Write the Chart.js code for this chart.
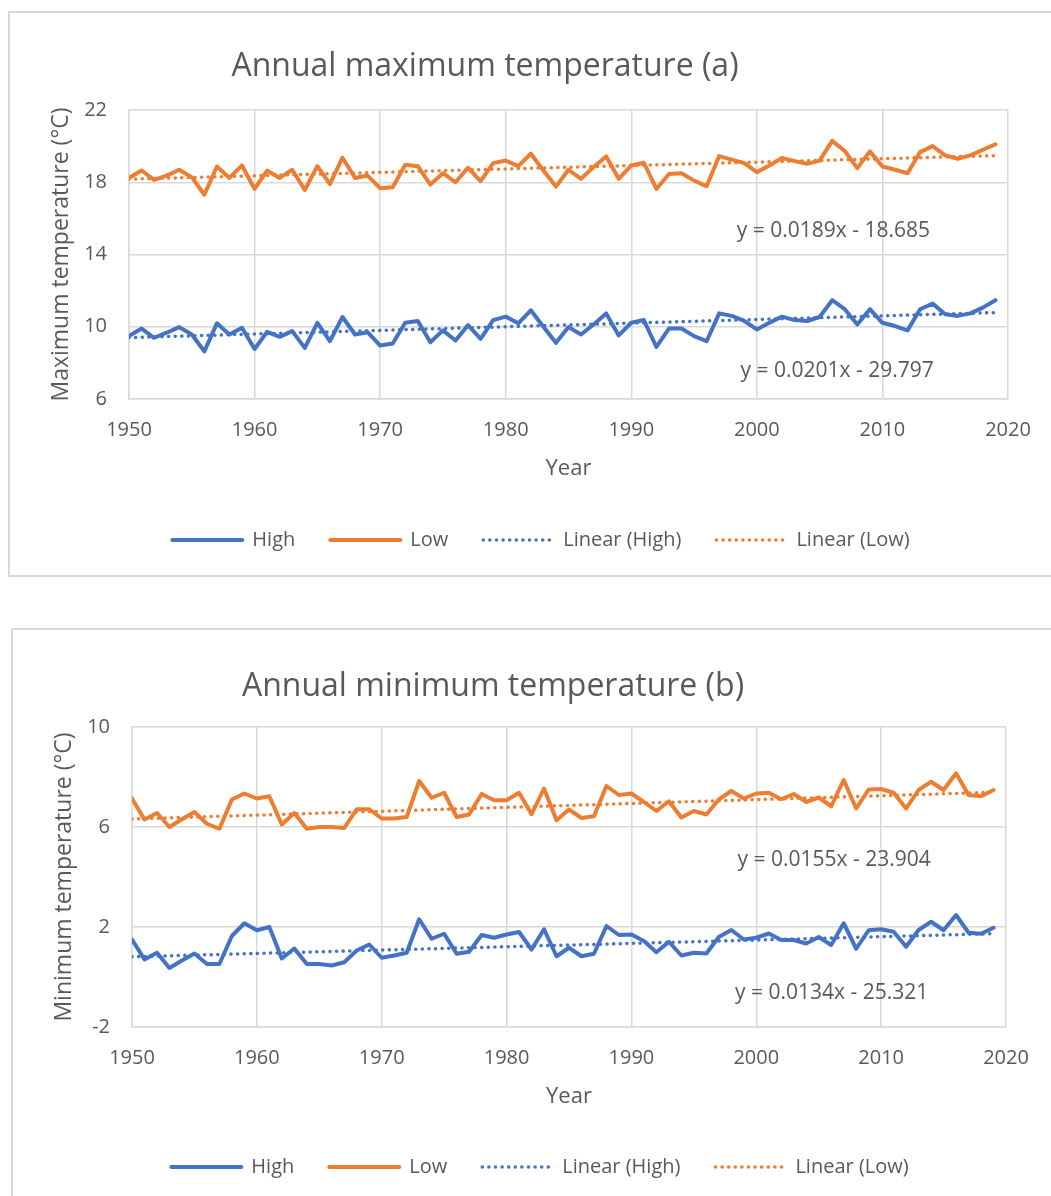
<!DOCTYPE html>
<html>
<head>
<meta charset="utf-8">
<script src="https://cdn.jsdelivr.net/npm/chart.js@4"></script>
<style>
  body { margin: 0; overflow: hidden; background: #fff; }
  .box { position: absolute; border: 2px solid #d9d9d9; width: 1200px; background: #fff; }
  .box canvas { position: absolute; left: 0; top: 0; }
</style>
</head>
<body>
<div class="box" style="left: 8px; top: 11px; height: 562px;">
  <canvas id="chartMax" width="1062" height="562"></canvas>
</div>
<div class="box" style="left: 11px; top: 628px; height: 600px;">
  <canvas id="chartMin" width="1054" height="570"></canvas>
</div>
<script>
// data
const years = [
  1950, 1951, 1952, 1953, 1954, 1955, 1956, 1957, 1958, 1959,
  1960, 1961, 1962, 1963, 1964, 1965, 1966, 1967, 1968, 1969,
  1970, 1971, 1972, 1973, 1974, 1975, 1976, 1977, 1978, 1979,
  1980, 1981, 1982, 1983, 1984, 1985, 1986, 1987, 1988, 1989,
  1990, 1991, 1992, 1993, 1994, 1995, 1996, 1997, 1998, 1999,
  2000, 2001, 2002, 2003, 2004, 2005, 2006, 2007, 2008, 2009,
  2010, 2011, 2012, 2013, 2014, 2015, 2016, 2017, 2018, 2019,
];

// (a) annual maximum temperature
const maxHigh = [
  9.48, 9.9, 9.39, 9.67, 9.98, 9.57, 8.64, 10.19, 9.57, 9.94,
  8.77, 9.72, 9.44, 9.76, 8.83, 10.22, 9.2, 10.54, 9.57, 9.7,
  8.96, 9.07, 10.22, 10.32, 9.14, 9.8, 9.24, 10.09, 9.33, 10.37,
  10.56, 10.19, 10.91, 10.0, 9.11, 9.98, 9.57, 10.13, 10.74, 9.52,
  10.22, 10.37, 8.88, 9.9, 9.9, 9.48, 9.2, 10.74, 10.6, 10.32,
  9.85, 10.22, 10.56, 10.37, 10.32, 10.54, 11.47, 10.97, 10.13, 10.97,
  10.22, 10.04, 9.8, 10.97, 11.28, 10.69, 10.6, 10.74, 11.06, 11.47,
];
const maxLow = [
  18.24, 18.65, 18.13, 18.37, 18.69, 18.28, 17.31, 18.87, 18.24, 18.93,
  17.63, 18.65, 18.24, 18.69, 17.57, 18.89, 17.9, 19.36, 18.24, 18.37,
  17.67, 17.72, 18.97, 18.89, 17.87, 18.5, 18.0, 18.8, 18.06, 19.06,
  19.2, 18.89, 19.58, 18.65, 17.76, 18.69, 18.19, 18.84, 19.43, 18.19,
  18.93, 19.08, 17.63, 18.46, 18.5, 18.09, 17.78, 19.45, 19.25, 19.06,
  18.56, 18.93, 19.34, 19.17, 19.02, 19.2, 20.29, 19.73, 18.78, 19.71,
  18.87, 18.69, 18.5, 19.67, 20.0, 19.49, 19.3, 19.49, 19.8, 20.1,
];
// trendline equations shown on the chart: [High, Low]
const maxTrendSlope = [0.0201, 0.0189];
const maxTrendIntercept = [-29.797, -18.685];
const maxTicks = [6, 10, 14, 18, 22];

// (b) annual minimum temperature
const minHigh = [
  1.5, 0.7, 0.97, 0.36, 0.66, 0.94, 0.52, 0.52, 1.64, 2.15,
  1.87, 2.0, 0.74, 1.14, 0.52, 0.52, 0.46, 0.59, 1.06, 1.3,
  0.77, 0.86, 0.97, 2.31, 1.53, 1.73, 0.93, 1.01, 1.68, 1.57,
  1.7, 1.8, 1.1, 1.91, 0.83, 1.17, 0.83, 0.93, 2.04, 1.68,
  1.7, 1.44, 0.99, 1.41, 0.86, 0.97, 0.94, 1.6, 1.88, 1.5,
  1.57, 1.74, 1.48, 1.48, 1.34, 1.6, 1.28, 2.15, 1.13, 1.87,
  1.91, 1.81, 1.21, 1.88, 2.21, 1.87, 2.48, 1.77, 1.73, 1.97,
];
const minLow = [
  7.14, 6.3, 6.56, 6.0, 6.31, 6.6, 6.13, 5.93, 7.1, 7.34,
  7.14, 7.23, 6.1, 6.56, 5.93, 6.0, 6.0, 5.96, 6.71, 6.71,
  6.34, 6.34, 6.4, 7.84, 7.17, 7.37, 6.4, 6.5, 7.32, 7.07,
  7.07, 7.37, 6.51, 7.54, 6.27, 6.7, 6.36, 6.43, 7.64, 7.28,
  7.34, 7.0, 6.64, 7.03, 6.38, 6.64, 6.5, 7.1, 7.44, 7.14,
  7.34, 7.37, 7.11, 7.32, 7.0, 7.18, 6.83, 7.88, 6.74, 7.5,
  7.52, 7.37, 6.74, 7.48, 7.81, 7.48, 8.15, 7.28, 7.23, 7.48,
];
const minTrendSlope = [0.0134, 0.0155];
const minTrendIntercept = [-25.321, -23.904];
const minTicks = [-2, 2, 6, 10];

const xTicks = [1950, 1960, 1970, 1980, 1990, 2000, 2010, 2020];
const seriesNames = ['High', 'Low'];

const BLUE = '#4472c4';
const ORANGE = '#ed7d31';
const TEXT = '#595959';
const GRID = '#d9d9d9';
const FONT = '"Open Sans", "Noto Sans", sans-serif';

// draws the chart heading at a fixed spot (Excel does not center it on the canvas)
const headingPlugin = {
  id: 'heading',
  afterDraw(chart, args, opts) {
    const ctx = chart.ctx;
    ctx.save();
    ctx.font = `32px ${FONT}`;
    ctx.fillStyle = TEXT;
    ctx.textAlign = 'center';
    ctx.textBaseline = 'middle';
    ctx.fillText(opts.text, opts.x, opts.y);
    ctx.restore();
  },
};

// trendline equation labels, placed in data coordinates
const equationPlugin = {
  id: 'equations',
  afterDatasetsDraw(chart, args, opts) {
    const { ctx, scales } = chart;
    ctx.save();
    ctx.font = `21px ${FONT}`;
    ctx.fillStyle = TEXT;
    ctx.textAlign = 'left';
    ctx.textBaseline = 'middle';
    opts.labels.forEach((label) => {
      ctx.fillText(label.text, scales.x.getPixelForValue(label.year), scales.y.getPixelForValue(label.value));
    });
    ctx.restore();
  },
};

function equationText(slope, intercept) {
  const sign = intercept < 0 ? '-' : '+';
  return `y = ${slope}x ${sign} ${Math.abs(intercept)}`;
}

function trendPoints(slope, intercept) {
  const first = years[0];
  const last = years[years.length - 1];
  return [
    { x: first, y: slope * first + intercept },
    { x: last, y: slope * last + intercept },
  ];
}

// legend samples should copy the dataset line (dash, cap, width)
function legendLabels(chart) {
  return Chart.defaults.plugins.legend.labels.generateLabels(chart).map((item) => {
    const ds = chart.data.datasets[item.datasetIndex];
    item.lineDash = ds.borderDash || [];
    item.lineCap = ds.borderCapStyle || 'butt';
    item.lineWidth = ds.borderWidth;
    item.strokeStyle = ds.borderColor;
    return item;
  });
}

function setupChart(id, setup) {
  const context = document.getElementById(id).getContext('2d');
  const seriesData = [setup.high, setup.low];
  const colors = [BLUE, ORANGE];

  const datasets = [];
  seriesData.forEach((values, i) => {
    datasets.push({
      label: seriesNames[i],
      data: years.map((year, j) => ({ x: year, y: values[j] })),
      borderColor: colors[i],
      backgroundColor: colors[i],
      borderWidth: 4,
      borderJoinStyle: 'round',
      borderCapStyle: 'round',
      pointRadius: 0,
      tension: 0,
    });
  });
  seriesData.forEach((values, i) => {
    datasets.push({
      label: `Linear (${seriesNames[i]})`,
      data: trendPoints(setup.slope[i], setup.intercept[i]),
      borderColor: colors[i],
      backgroundColor: colors[i],
      borderWidth: 3.5,
      borderDash: [0.1, 6.5],
      borderCapStyle: 'round',
      pointRadius: 0,
    });
  });

  new Chart(context, {
    type: 'line',
    data: { datasets },
    plugins: [headingPlugin, equationPlugin],
    options: {
      responsive: false,
      animation: false,
      layout: { padding: { top: 97, bottom: setup.bottomPad } },
      plugins: {
        title: { display: false },
        tooltip: { enabled: false },
        heading: { text: setup.title, x: setup.titleX, y: setup.titleY },
        equations: {
          labels: [
            { text: equationText(setup.slope[1], setup.intercept[1]), year: setup.eqYear[1], value: setup.eqValue[1] },
            { text: equationText(setup.slope[0], setup.intercept[0]), year: setup.eqYear[0], value: setup.eqValue[0] },
          ],
        },
        legend: {
          position: 'bottom',
          labels: {
            usePointStyle: true,
            pointStyle: 'line',
            pointStyleWidth: 70,
            boxHeight: 10,
            padding: 35,
            color: TEXT,
            font: { family: FONT, size: 20 },
            generateLabels: legendLabels,
          },
        },
      },
      scales: {
        x: {
          type: 'linear',
          min: 1950,
          max: 2020,
          afterBuildTicks: (scale) => {
            scale.ticks = xTicks.map((v) => ({ value: v }));
          },
          ticks: {
            padding: 19,
            color: TEXT,
            font: { family: FONT, size: 20 },
            callback: (value) => String(value),
          },
          grid: { color: GRID, lineWidth: 1.5, drawTicks: false },
          border: { color: GRID, width: 1.5 },
          title: {
            display: true,
            text: 'Year',
            color: TEXT,
            font: { family: FONT, size: 22 },
            padding: { top: -5, bottom: setup.xTitleBottom },
          },
        },
        y: {
          min: setup.ticks[0],
          max: setup.ticks[setup.ticks.length - 1],
          afterBuildTicks: (scale) => {
            scale.ticks = setup.ticks.map((v) => ({ value: v }));
          },
          afterFit: (scale) => {
            scale.width = 119;
          },
          ticks: {
            padding: 22,
            color: TEXT,
            font: { family: FONT, size: 20 },
          },
          grid: { color: GRID, lineWidth: 1.5, drawTicks: false },
          border: { color: GRID, width: 1.5 },
          title: {
            display: true,
            text: setup.yTitle,
            color: TEXT,
            font: { family: FONT, size: 23 },
            padding: { top: 38, bottom: 0 },
          },
        },
        // empty right-hand axis that only reserves room, like Excel's plot inset
        spacer: {
          position: 'right',
          display: true,
          ticks: { display: false },
          grid: { display: false },
          border: { display: false },
          afterFit: (scale) => {
            scale.width = setup.rightPad;
          },
        },
      },
    },
  });
}

setupChart('chartMax', {
  high: maxHigh,
  low: maxLow,
  slope: maxTrendSlope,
  intercept: maxTrendIntercept,
  ticks: maxTicks,
  title: 'Annual maximum temperature (a)',
  titleX: 475,
  titleY: 54,
  yTitle: 'Maximum temperature (°C)',
  eqYear: [1998.7, 1998.4],
  eqValue: [7.53, 15.3],
  rightPad: 64,
  bottomPad: 15,
  xTitleBottom: 12.6,
});

setupChart('chartMin', {
  high: minHigh,
  low: minLow,
  slope: minTrendSlope,
  intercept: minTrendIntercept,
  ticks: minTicks,
  title: 'Annual minimum temperature (b)',
  titleX: 480,
  titleY: 57,
  yTitle: 'Minimum temperature (°C)',
  eqYear: [1998.3, 1998.5],
  eqValue: [-0.66, 4.66],
  rightPad: 61,
  bottomPad: 13,
  xTitleBottom: 11.6,
});
</script>
</body>
</html>
